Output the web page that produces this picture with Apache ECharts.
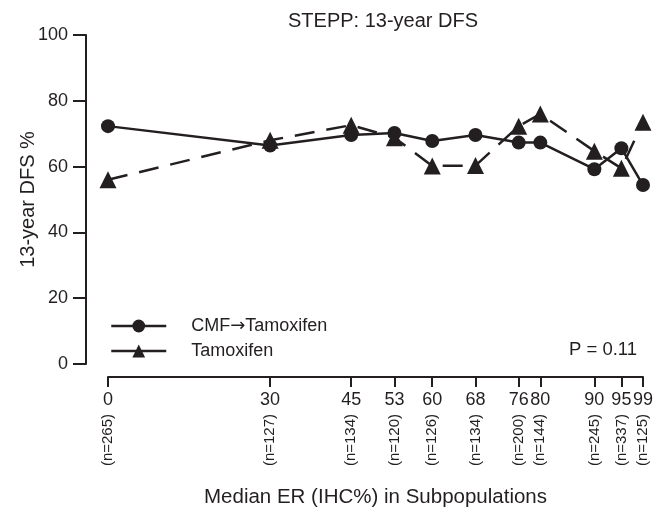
<!DOCTYPE html>
<html>
<head>
<meta charset="utf-8">
<script src="https://cdn.jsdelivr.net/npm/echarts@6/dist/echarts.min.js"></script>
<style>
    html, body { margin: 0; padding: 0; background: #fff; }
    #chart { width: 654px; height: 512px; }
</style>
</head>
<body>
<div id="chart"></div>
<script>
// median ER of each subpopulation and its size
var erMedians = [0, 30, 45, 53, 60, 68, 76, 80, 90, 95, 99];
var subpopSizes = [265, 127, 134, 120, 126, 134, 200, 144, 245, 337, 125];
// 13-year DFS %
var cmfTam = [72.3, 66.4, 69.6, 70.2, 67.8, 69.6, 67.3, 67.3, 59.2, 65.6, 54.4];
var tamOnly = [56.0, 68.0, 72.6, 68.8, 60.2, 60.3, 72.3, 76.0, 64.7, 59.5, 73.5];
var yTicks = [0, 20, 40, 60, 80, 100];

var ink = '#231f20';
var font = 'Liberation Sans, Arial, sans-serif';

function pairs(xs, ys) {
    var out = [];
    for (var i = 0; i < xs.length; i++) {
        out.push([xs[i], ys[i]]);
    }
    return out;
}

var nLabel = {};
for (var i = 0; i < erMedians.length; i++) {
    nLabel[erMedians[i]] = '(n=' + subpopSizes[i] + ')';
}

var myChart = echarts.init(document.getElementById('chart'));
myChart.setOption({
    animation: false,
    title: {
        text: 'STEPP: 13-year DFS',
        left: 283,
        top: 6,
        textStyle: { color: ink, fontSize: 20, fontWeight: 'normal', fontFamily: font }
    },
    legend: {
        orient: 'vertical',
        left: 105,
        top: 312,
        itemWidth: 55,
        itemHeight: 16,
        itemGap: 7,
        lineStyle: { type: 'solid', width: 2.5, color: ink },
        formatter: function (name) {
            var parts = name.split('\u2192');
            if (parts.length > 1) {
                return '{t|' + parts[0] + '}{ar|\u2192}{t|' + parts[1] + '}';
            }
            return '{t|' + name + '}';
        },
        textStyle: {
            color: ink, fontSize: 18, fontFamily: font, padding: [0, 0, 0, 20],
            rich: {
                t: { color: ink, fontSize: 18, fontFamily: font },
                ar: { color: ink, fontSize: 18, fontFamily: 'DejaVu Sans' }
            }
        },
        data: ['CMF\u2192Tamoxifen', 'Tamoxifen']
    },
    grid: { left: 108, right: 11, top: 35, bottom: 148, outerBoundsMode: 'none' },
    xAxis: [{
        type: 'value',
        min: 0,
        max: 99,
        offset: 13,
        name: 'Median ER (IHC%) in Subpopulations',
        nameLocation: 'middle',
        nameGap: 110,
        nameTextStyle: { color: ink, fontSize: 20.5, fontFamily: font },
        splitLine: { show: false },
        axisLine: { onZero: false, lineStyle: { color: ink, width: 2 } },
        axisTick: { length: 10, lineStyle: { color: ink, width: 2 }, customValues: erMedians },
        axisLabel: { color: ink, fontSize: 18, fontFamily: font, margin: 14, customValues: erMedians }
    }, {
        type: 'value',
        min: 0,
        max: 99,
        position: 'bottom',
        offset: 44,
        splitLine: { show: false },
        axisLine: { show: false, onZero: false },
        axisTick: { show: false },
        axisLabel: {
            color: ink, fontSize: 15, fontFamily: font, margin: 6, rotate: 90,
            customValues: erMedians,
            formatter: function (v) { return nLabel[v]; }
        }
    }],
    yAxis: {
        type: 'value',
        min: 0,
        max: 100,
        interval: 20,
        offset: 22,
        name: '13-year DFS %',
        nameLocation: 'middle',
        nameGap: 48,
        nameMoveOverlap: false,
        nameTextStyle: { color: ink, fontSize: 20, fontFamily: font },
        splitLine: { show: false },
        axisLine: { show: true, onZero: false, lineStyle: { color: ink, width: 2 } },
        axisTick: { show: true, length: 13, lineStyle: { color: ink, width: 2 }, customValues: yTicks },
        axisLabel: { color: ink, fontSize: 18, fontFamily: font, margin: 18 }
    },
    graphic: [{
        type: 'text',
        left: 569,
        top: 340,
        style: { text: 'P = 0.11', fill: ink, fontSize: 18.5, fontFamily: font }
    }],
    series: [{
        name: 'CMF\u2192Tamoxifen',
        type: 'line',
        data: pairs(erMedians, cmfTam),
        symbol: 'circle',
        symbolSize: 14,
        itemStyle: { color: ink },
        lineStyle: { color: ink, width: 2.5 }
    }, {
        name: 'Tamoxifen',
        type: 'line',
        data: pairs(erMedians, tamOnly),
        symbol: 'triangle',
        symbolSize: 17,
        itemStyle: { color: ink },
        lineStyle: { color: ink, width: 2.5, type: [20, 12] }
    }]
});
</script>
</body>
</html>
